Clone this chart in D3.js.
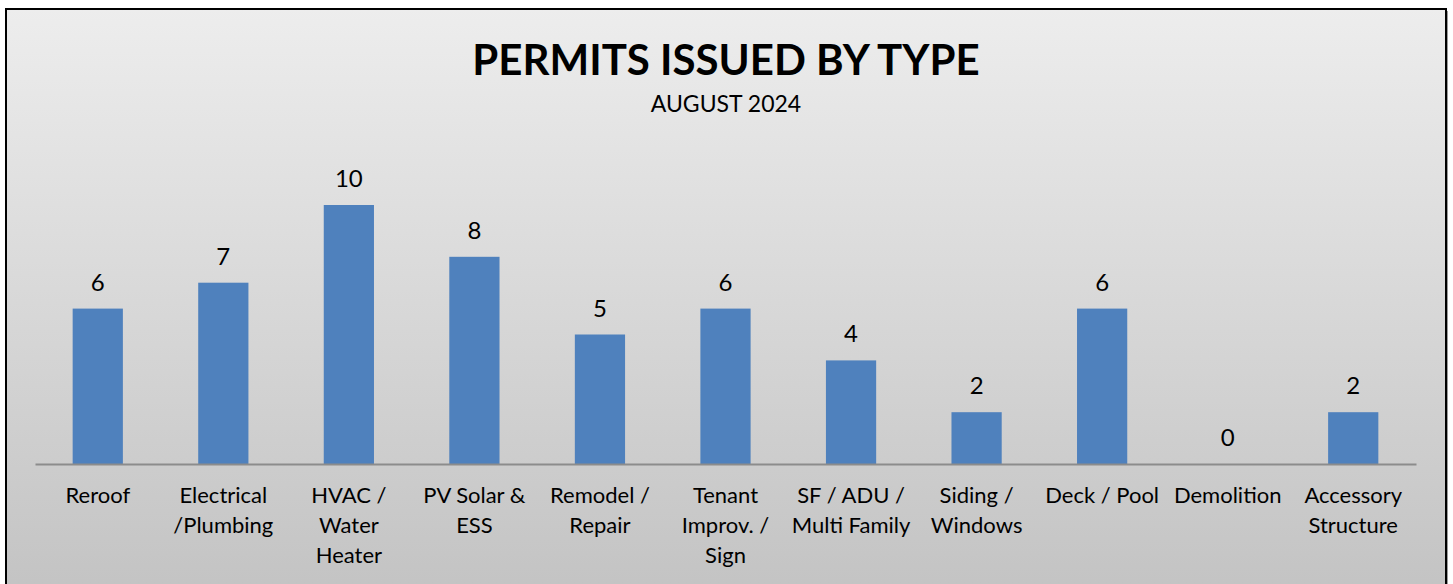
<!DOCTYPE html>
<html>
<head>
<meta charset="utf-8">
<script src="https://cdn.jsdelivr.net/npm/d3@7"></script>
<style>
  html, body { margin: 0; padding: 0; background: #fff; }
  svg { display: block; }
</style>
</head>
<body>
<svg id="chart" width="1453" height="584"></svg>
<script>
// Permits issued by type, August 2024
const categories = [
    ['Reroof'],
    ['Electrical', '/Plumbing'],
    ['HVAC /', 'Water', 'Heater'],
    ['PV Solar &', 'ESS'],
    ['Remodel /', 'Repair'],
    ['Tenant', 'Improv. /', 'Sign'],
    ['SF / ADU /', 'Multi Family'],
    ['Siding /', 'Windows'],
    ['Deck / Pool'],
    ['Demolition'],
    ['Accessory', 'Structure']
];
const permits = [6, 7, 10, 8, 5, 6, 4, 2, 6, 0, 2];
const titleText = 'PERMITS ISSUED BY TYPE';
const subtitleText = 'AUGUST 2024';

const svg = d3.select('#chart');
const font = 'Lato, "Open Sans", sans-serif';

// Background gradient (light at top, darker at bottom)
const defs = svg.append('defs');
const grad = defs.append('linearGradient')
    .attr('id', 'bg')
    .attr('x1', 0).attr('y1', 0).attr('x2', 0).attr('y2', 1);
grad.append('stop').attr('offset', '0%').attr('stop-color', '#ededed');
grad.append('stop').attr('offset', '100%').attr('stop-color', '#c2c2c2');

// Shadow on the right edge of the frame
svg.append('rect')
    .attr('x', 8).attr('y', 11)
    .attr('width', 1440).attr('height', 600)
    .attr('fill', '#9a9a9a');

svg.append('rect')
    .attr('x', 6).attr('y', 9)
    .attr('width', 1440).attr('height', 600)
    .attr('fill', 'url(#bg)')
    .attr('stroke', '#000')
    .attr('stroke-width', 2);

// Scales
const x = d3.scaleBand()
    .domain(d3.range(categories.length))
    .range([35, 1416])
    .paddingInner(0.6)
    .paddingOuter(0.3);

const y = d3.scaleLinear()
    .domain([0, 10])
    .range([464, 205]);

// Bars
svg.append('g')
    .selectAll('rect')
    .data(permits)
    .join('rect')
    .attr('x', (d, i) => x(i))
    .attr('y', d => y(d))
    .attr('width', x.bandwidth())
    .attr('height', d => y(0) - y(d))
    .attr('fill', '#4f81bd');

// Category axis
const xAxis = svg.append('g')
    .attr('transform', 'translate(0,464)')
    .call(d3.axisBottom(x).tickSize(0).tickFormat(''));
xAxis.select('.domain')
    .attr('stroke', '#8c8c8c')
    .attr('stroke-width', 2);

xAxis.selectAll('.tick')
    .append('text')
    .attr('fill', '#000')
    .attr('font-family', font)
    .attr('font-size', 22)
    .attr('text-anchor', 'middle')
    .selectAll('tspan')
    .data(i => categories[i])
    .join('tspan')
    .attr('x', 0)
    .attr('y', (d, j) => 39 + j * 30)
    .text(d => d);

// Value labels
svg.append('g')
    .selectAll('text')
    .data(permits)
    .join('text')
    .attr('x', (d, i) => x(i) + x.bandwidth() / 2)
    .attr('y', d => y(d) - 18)
    .attr('text-anchor', 'middle')
    .attr('font-family', font)
    .attr('font-size', 24)
    .attr('fill', '#000')
    .text(d => d);

// Titles
svg.append('text')
    .attr('x', 726).attr('y', 75)
    .attr('text-anchor', 'middle')
    .attr('font-family', font)
    .attr('font-weight', 'bold')
    .attr('font-size', 42)
    .attr('fill', '#000')
    .text(titleText);

svg.append('text')
    .attr('x', 726).attr('y', 112)
    .attr('text-anchor', 'middle')
    .attr('font-family', font)
    .attr('font-size', 23)
    .attr('fill', '#000')
    .text(subtitleText);
</script>
</body>
</html>
